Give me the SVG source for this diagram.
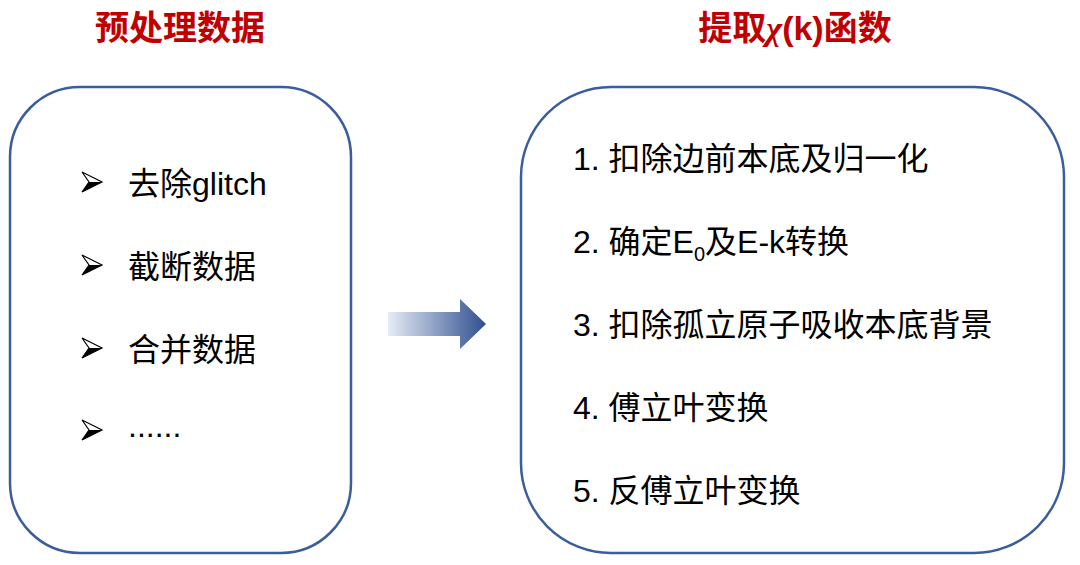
<svg xmlns="http://www.w3.org/2000/svg" width="1080" height="565" viewBox="0 0 1080 565">
<style>
.box{fill:#fff;stroke:#3b5e9b;stroke-width:2.5}
.t{font-family:"Liberation Sans","Noto Sans CJK SC",sans-serif;font-size:32px;fill:#000}
.h{font-family:"Liberation Sans","Noto Sans CJK SC",sans-serif;font-size:34px;font-weight:bold;fill:#c00000;text-anchor:middle}
</style>
<defs>
<linearGradient id="g" x1="0" x2="1" y1="0" y2="0">
<stop offset="0" stop-color="#e6ecf6"/><stop offset="1" stop-color="#2f4f8f"/>
</linearGradient>
</defs>
<rect width="1080" height="565" fill="#fff"/>
<g id="title-left"><text class="h" x="180" y="40">预处理数据</text></g>
<g id="title-right"><text class="h" x="795" y="40">提取<tspan font-family="Liberation Serif" font-style="italic">χ</tspan>(k)函数</text></g>
<g id="node-left">
<rect class="box" x="10" y="87" width="341" height="466" rx="70"/>
<g transform="translate(82,182)"><path d="M0,-10 L20,0 L0,10 L7,0 Z" fill="#fff" stroke="#000" stroke-width="1.2"/><path d="M0,10 L20,0 L7,0 Z" fill="#000"/></g>
<g transform="translate(82,265)"><path d="M0,-10 L20,0 L0,10 L7,0 Z" fill="#fff" stroke="#000" stroke-width="1.2"/><path d="M0,10 L20,0 L7,0 Z" fill="#000"/></g>
<g transform="translate(82,348)"><path d="M0,-10 L20,0 L0,10 L7,0 Z" fill="#fff" stroke="#000" stroke-width="1.2"/><path d="M0,10 L20,0 L7,0 Z" fill="#000"/></g>
<g transform="translate(82,430)"><path d="M0,-10 L20,0 L0,10 L7,0 Z" fill="#fff" stroke="#000" stroke-width="1.2"/><path d="M0,10 L20,0 L7,0 Z" fill="#000"/></g>
<text class="t" x="128" y="195">去除glitch</text>
<text class="t" x="128" y="278">截断数据</text>
<text class="t" x="128" y="361">合并数据</text>
<text class="t" x="128" y="437">......</text>
</g>
<g id="connectors">
<path d="M388,312 H460 V299 L486,324 L460,349 V336 H388 Z" fill="url(#g)"/>
</g>
<g id="node-right">
<rect class="box" x="521" y="87" width="543" height="466" rx="90"/>
<text class="t" x="573" y="170">1. 扣除边前本底及归一化</text>
<text class="t" x="573" y="253">2. 确定E<tspan font-size="20" dy="8">0</tspan><tspan dy="-8">及E-k转换</tspan></text>
<text class="t" x="573" y="336">3. 扣除孤立原子吸收本底背景</text>
<text class="t" x="573" y="419">4. 傅立叶变换</text>
<text class="t" x="573" y="502">5. 反傅立叶变换</text>
</g>
</svg>
